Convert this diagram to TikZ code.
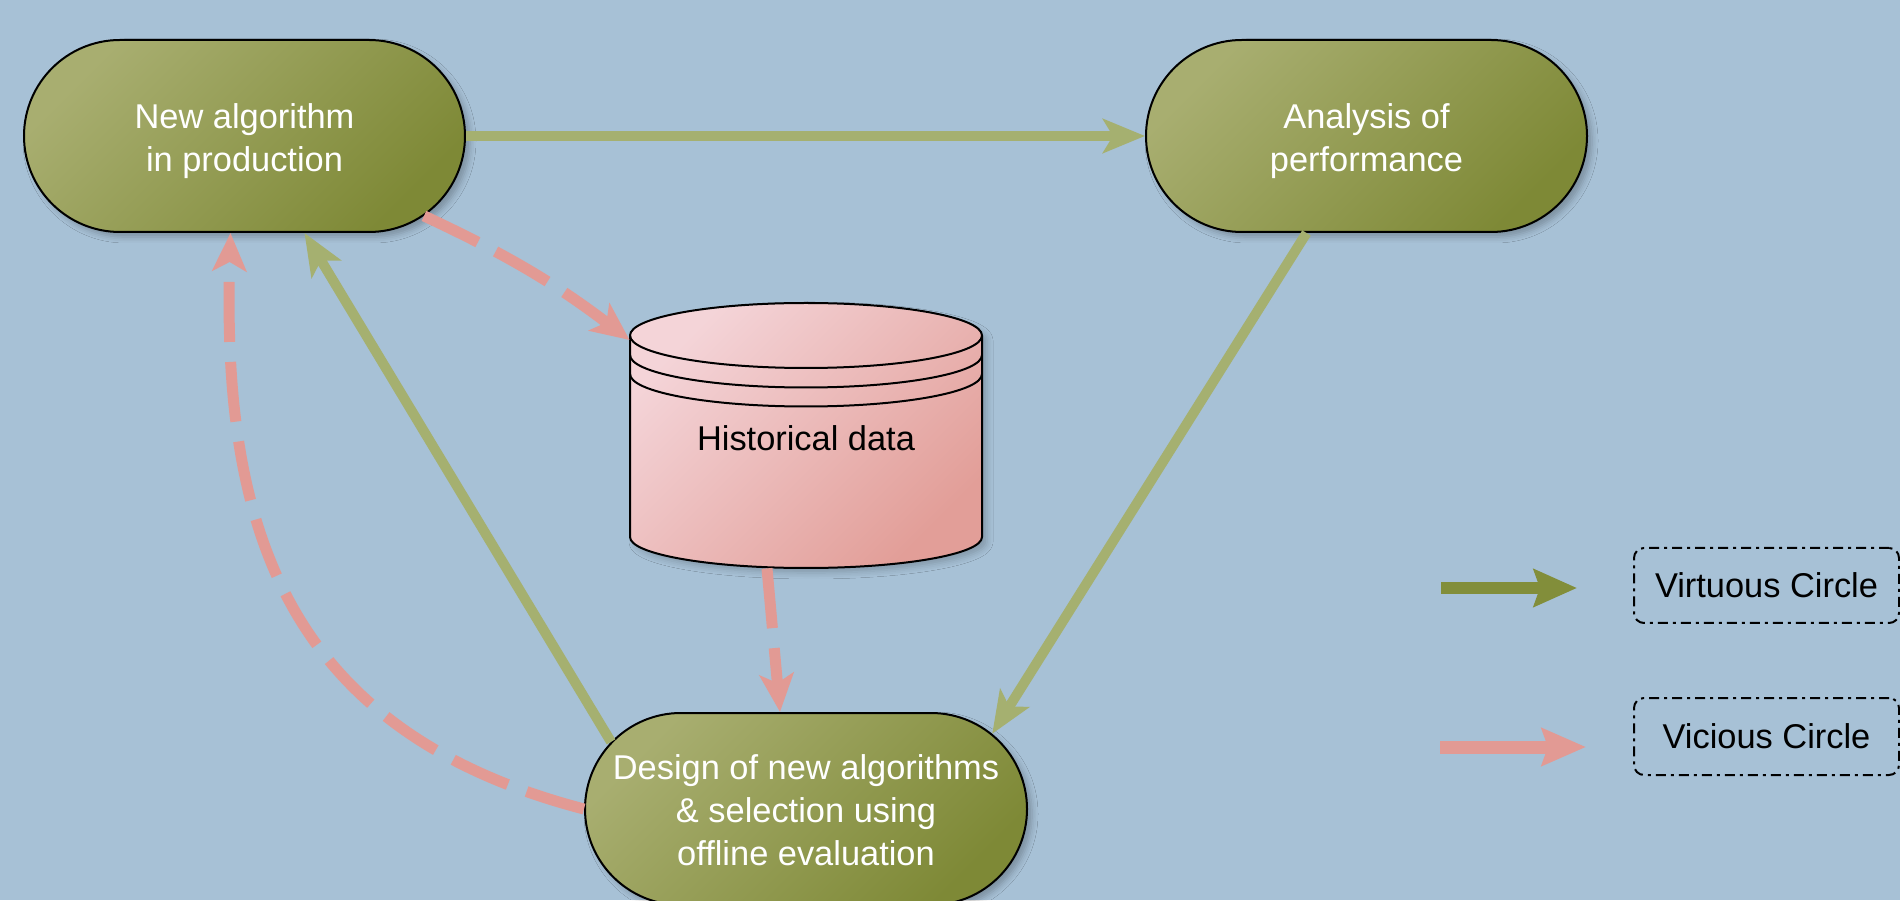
\documentclass[tikz,border=0pt]{standalone}
\usepackage{fontspec}
\setmainfont{Liberation Sans}
\usetikzlibrary{arrows.meta,shapes.misc,shadows.blur}
\definecolor{bg}{RGB}{167,193,214}
\definecolor{oliveL}{RGB}{168,174,112}
\definecolor{oliveD}{RGB}{126,137,54}
\definecolor{pinkL}{RGB}{244,212,216}
\definecolor{pinkD}{RGB}{226,158,152}
\definecolor{vgreen}{RGB}{165,176,112}
\definecolor{vpink}{RGB}{226,154,148}
\definecolor{leggreen}{RGB}{130,142,58}
\begin{document}
\begin{tikzpicture}[x=0.5pt,y=0.5pt,
  txt/.style={font=\fontsize{17.2}{21.5}\selectfont, align=center},
  procnode/.style={rounded rectangle, draw=black, line width=1pt,
    minimum width=220.5pt, minimum height=96pt, inner sep=0pt,
    top color=oliveL, bottom color=oliveD, shading angle=45,
    blur shadow={shadow xshift=2.5pt, shadow yshift=-2.5pt, shadow blur radius=3pt, shadow opacity=25}},
  virt/.style={draw=vgreen, line width=5pt, -{Stealth[length=21pt,width=17pt,inset=5pt]}},
  vic/.style={draw=vpink, line width=5.5pt, dash pattern=on 30pt off 10pt, -{Stealth[length=19pt,width=17pt,inset=4.5pt]}},
  legbox/.style={draw=black, line width=1pt, rounded corners=5pt,
    dash pattern=on 5pt off 2.5pt on 1.5pt off 2.5pt, inner sep=0pt,
    minimum width=132.5pt, font=\fontsize{17.2}{21.5}\selectfont}
]
\fill[bg] (0,0) rectangle (1900,900);
\useasboundingbox (0,0) rectangle (1900,900);

% nodes
\node[procnode, label={[txt, text=white, yshift=-2.5pt]center:New algorithm\\in production}] (n1) at (244.5,764) {};
\node[procnode, label={[txt, text=white, yshift=-2.5pt]center:Analysis of\\performance}] (n2) at (1366.5,764) {};
\node[procnode, minimum width=221pt, label={[txt, text=white, yshift=-0.5pt]center:Design of new algorithms\\\& selection using\\offline evaluation}] (n3) at (806,91) {};

% cylinder
\shade[top color=pinkL, bottom color=pinkD, shading angle=45,
  blur shadow={shadow xshift=2.5pt, shadow yshift=-2.5pt, shadow blur radius=3pt, shadow opacity=20}]
  (630,564.5) -- (630,363) arc[start angle=180, end angle=360, x radius=176, y radius=31]
  -- (982,564.5) arc[start angle=0, end angle=180, x radius=176, y radius=32.5] -- cycle;
\draw[line width=1pt] (630,564.5) -- (630,363) arc[start angle=180, end angle=360, x radius=176, y radius=31]
  -- (982,564.5) arc[start angle=0, end angle=180, x radius=176, y radius=32.5];
\draw[line width=1pt] (630,564.5) arc[start angle=180, end angle=360, x radius=176, y radius=32.5];
\draw[line width=1pt] (630,545) arc[start angle=180, end angle=360, x radius=176, y radius=32.5];
\draw[line width=1pt] (630,526) arc[start angle=180, end angle=360, x radius=176, y radius=32.5];
\node[txt, minimum width=176pt, minimum height=132.5pt, inner sep=0pt] (hist) at (806,461.5) {Historical data};

% connectors
\draw[virt] (n1.east) -- (n2.west);
\draw[virt] ([xshift=-30pt]n2.south) -- (n3.22.5);
\draw[virt] (n3.161) -- ([xshift=30pt]n1.south);
\draw[vic] (n1.-24.5) to[bend left=6] ([yshift=49.25pt]hist.west);
\draw[vic] ([xshift=-19.5pt,yshift=1.5pt]hist.south) -- ([xshift=-13pt]n3.north);
\draw[vic] (n3.west) .. controls (280,170) and (222,380) .. ([xshift=-7pt]n1.south);

% legend
\node[legbox, minimum height=37.5pt] (lv) at (1766.5,314.5) {Virtuous Circle};
\node[legbox, minimum height=38.5pt] (lc) at (1766.5,163.5) {Vicious Circle};
\draw[draw=leggreen, line width=6pt, -{Stealth[length=21.5pt,width=18.5pt,inset=3pt]}]
  ([xshift=-96pt,yshift=-1.25pt]lv.west) -- ([xshift=-28pt,yshift=-1.25pt]lv.west);
\draw[draw=vpink, line width=6.5pt, -{Stealth[length=22pt,width=18.5pt,inset=3pt]}]
  ([xshift=-96.5pt,yshift=-5.25pt]lc.west) -- ([xshift=-23.5pt,yshift=-5.25pt]lc.west);
\end{tikzpicture}
\end{document}
